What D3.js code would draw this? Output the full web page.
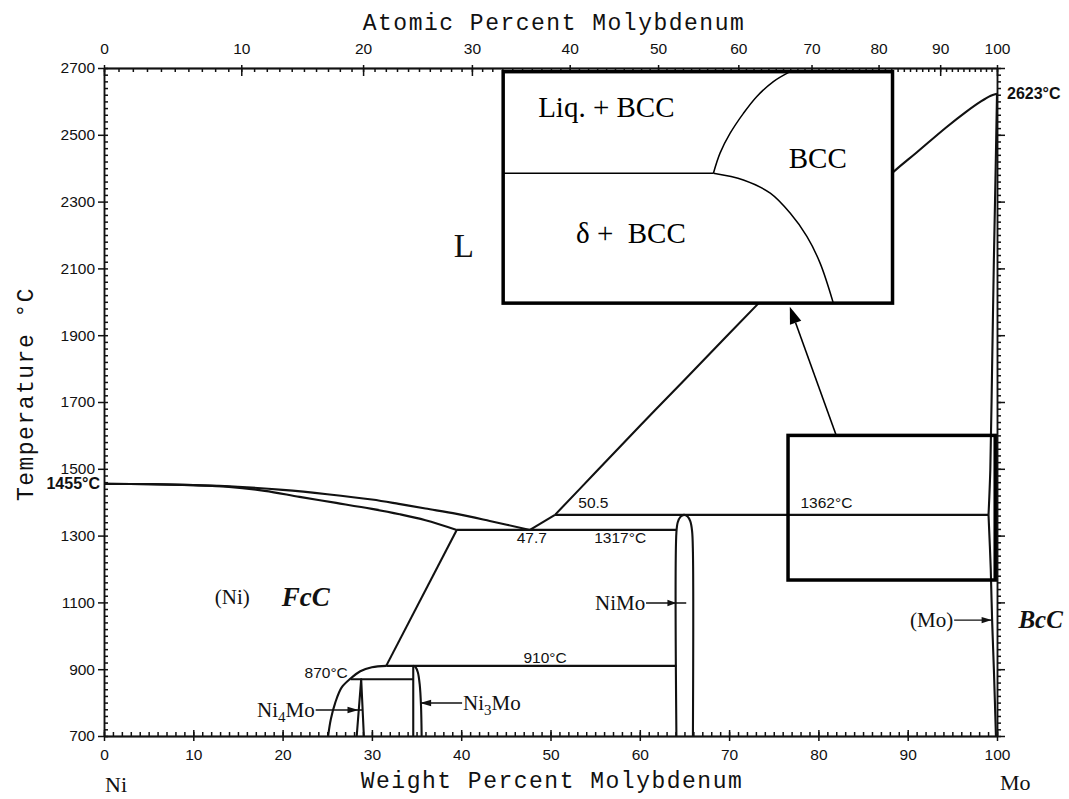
<!DOCTYPE html>
<html>
<head>
<meta charset="utf-8">
<script src="https://cdn.jsdelivr.net/npm/d3@7"></script>
<style>
  body { margin: 0; background: #fff; }
  svg { display: block; }
  .tick text { font-family: "Liberation Sans", Arial, sans-serif; font-size: 15.5px; fill: #111; }
  .axis path { stroke: #111; stroke-width: 1.5; }
  .axis line { stroke: #111; stroke-width: 1.5; }
  .title { font-family: "Liberation Mono", "Courier New", monospace; font-size: 23px; letter-spacing: 1.5px; fill: #111; }
  .num { font-family: "Liberation Sans", Arial, sans-serif; font-size: 15.5px; fill: #111; }
  .numb { font-family: "Liberation Sans", Arial, sans-serif; font-size: 16px; font-weight: bold; fill: #111; }
  .phase { font-family: "Liberation Serif", "Times New Roman", serif; font-size: 21px; fill: #111; }
  .elem { font-family: "Liberation Serif", "Times New Roman", serif; font-size: 22px; fill: #111; }
  .big { font-family: "Liberation Serif", "Times New Roman", serif; font-size: 33px; fill: #111; }
  .hand { font-family: "Liberation Serif", "Times New Roman", serif; font-style: italic; font-weight: bold; fill: #111; }
  .inset { font-family: "Liberation Serif", "Times New Roman", serif; font-size: 29px; fill: #000; }
</style>
</head>
<body>
<svg id="chart" width="1069" height="799"></svg>
<script>
// ---- Axis ticks ----
const wtTicks = d3.range(0, 101, 10);           // weight percent Mo (bottom)
const atTicks = d3.range(0, 101, 10);           // atomic percent Mo (top)
const tempTicks = d3.range(700, 2701, 200);     // temperature, degC

// ---- Phase boundaries: [wt% Mo, T degC] ----
const liquidusNi = [[0,1455],[5,1454],[10,1451],[15,1446],[20,1437],[25,1424],[30,1408],[33,1395],[36,1381],[39.5,1365],[43.2,1344],[47.7,1317]];
const solidusNi = [[0,1455],[5,1454],[10,1451],[14,1446],[18,1434],[21.9,1416],[26,1398],[30,1380],[33.1,1364],[36,1346],[39.5,1317]];
const solvusNiHigh = [[39.5,1317],[31.6,910]];
const solvusNiLow = [[31.6,910],[30,906],[28.7,894],[27.6,872],[26.6,845],[25.9,800],[25.4,750],[25.1,700]];
const liquidusMoLow = [[47.7,1317],[50.5,1362]];
const liquidusMo = [[50.5,1362],[55,1488],[60,1628],[65,1766],[73.1,1990],[80,2180],[88.4,2389],[91,2447],[94.3,2522],[96.5,2568],[98.2,2600],[99.3,2617],[100,2623]];
const solidusMo = [[100,2623],[99.85,2400],[99.65,2125],[99.45,1800],[99.25,1496],[99.05,1362]];
const solvusMo = [[99.05,1362],[99.3,1200],[99.45,1050],[99.65,900],[99.88,700]];
const eutectic1317 = [[39.5,1317],[64.1,1317]];
const peritectic1362 = [[50.5,1362],[99.05,1362]];
const peritectoid910 = [[31.6,910],[64.1,910]];
const reaction870 = [[27.6,870],[34.63,870]];
const niMoLens = [[64.1,700],[64.1,1310],[64.25,1340],[64.55,1356],[64.95,1362],[65.35,1357],[65.65,1343],[65.85,1315],[65.95,1250],[65.95,700]];
const ni4MoField = [[28.3,700],[28.8,870],[29.1,700]];
const ni3MoLeft = [[34.63,700],[34.63,910]];
const ni3MoRight = [[34.63,910],[34.9,906],[35.15,890],[35.35,855],[35.5,790],[35.57,700]];

// ---- Enlarged detail (local 0-100 units inside the detail box) ----
const detailPeritectic = [[0,56.1],[54,56.1]];
const detailLiquidus = [[54,56.1],[55.7,64.8],[58.3,73.4],[61.7,82],[65.1,89.2],[69.4,95.7],[73.7,100]];
const detailSolvus = [[54,56.1],[61.7,53.2],[68.6,47.5],[73.7,38.9],[78,28.8],[81.4,17.3],[84.8,0]];

// Molar masses for the atomic-percent scale
const M_MO = 95.95, M_NI = 58.69;
const atToWt = a => 100 * a * M_MO / (a * M_MO + (100 - a) * M_NI);

const svg = d3.select("#chart");
const x = d3.scaleLinear().domain([0, 100]).range([104, 997]);
const y = d3.scaleLinear().domain([700, 2700]).range([736, 68]);
const atGrid = d3.range(0, 101, 1);
const xAt = d3.scaleLinear().domain(atGrid).range(atGrid.map(a => x(atToWt(a))));
const fmt = d3.format("d");

const X0 = x(0), X1 = x(100), Y0 = y(700), Y1 = y(2700);

// ---- Axes ----
function axisG(tx, ty) {
  return svg.append("g").attr("class", "axis").attr("transform", `translate(${tx},${ty})`);
}
const none = () => "";
// bottom
axisG(0, Y0).call(d3.axisBottom(x).tickValues(wtTicks).tickFormat(fmt).tickSize(5).tickSizeOuter(0).tickPadding(8));
axisG(0, Y0).call(d3.axisTop(x).tickValues(d3.range(0, 101, 1)).tickSize(4).tickSizeOuter(0).tickFormat(none));
axisG(0, Y0).call(d3.axisTop(x).tickValues(wtTicks).tickSize(6).tickSizeOuter(0).tickFormat(none));
// top (atomic percent)
axisG(0, Y1).call(d3.axisTop(xAt).tickValues(atTicks).tickFormat(fmt).tickSize(3).tickSizeOuter(0).tickPadding(11));
axisG(0, Y1).call(d3.axisBottom(xAt).tickValues(d3.range(0, 101, 1)).tickSize(4).tickSizeOuter(0).tickFormat(none));
axisG(0, Y1).call(d3.axisBottom(xAt).tickValues(atTicks).tickSize(8).tickSizeOuter(0).tickFormat(none));
// left
axisG(X0, 0).call(d3.axisLeft(y).tickValues(tempTicks).tickFormat(fmt).tickSize(6).tickSizeOuter(0).tickPadding(3));
axisG(X0, 0).call(d3.axisRight(y).tickValues(d3.range(700, 2701, 20)).tickSize(4).tickSizeOuter(0).tickFormat(none));
// right
axisG(X1, 0).call(d3.axisRight(y).tickValues(d3.range(700, 2701, 20)).tickSize(4).tickSizeOuter(0).tickFormat(none));
axisG(X1, 0).call(d3.axisRight(y).tickValues(tempTicks).tickSize(8).tickSizeOuter(0).tickFormat(none));

// ---- Axis titles ----
svg.append("text").attr("class", "title").attr("x", 554).attr("y", 30).attr("text-anchor", "middle").text("Atomic Percent Molybdenum");
svg.append("text").attr("class", "title").attr("x", 552).attr("y", 788).attr("text-anchor", "middle").text("Weight Percent Molybdenum");
svg.append("text").attr("class", "title").attr("transform", "translate(33,394) rotate(-90)").attr("text-anchor", "middle").text("Temperature °C");
svg.append("text").attr("class", "elem").attr("x", X0 + 1).attr("y", 792).text("Ni");
svg.append("text").attr("class", "elem").attr("x", X1 + 3).attr("y", 790).text("Mo");

// ---- Phase boundaries ----
const smooth = d3.curveCatmullRom.alpha(0.5);
const lineFor = (curve, sx = x, sy = y) => d3.line().x(d => sx(d[0])).y(d => sy(d[1])).curve(curve);
const boundaries = [
  [liquidusNi, smooth], [solidusNi, smooth], [solvusNiHigh, d3.curveLinear], [solvusNiLow, smooth],
  [liquidusMoLow, d3.curveLinear], [liquidusMo, smooth], [solidusMo, smooth], [solvusMo, smooth],
  [eutectic1317, d3.curveLinear], [peritectic1362, d3.curveLinear], [peritectoid910, d3.curveLinear],
  [reaction870, d3.curveLinear], [niMoLens, smooth], [ni4MoField, d3.curveLinear],
  [ni3MoLeft, d3.curveLinear], [ni3MoRight, smooth]
];
svg.append("g").selectAll("path").data(boundaries).join("path")
  .attr("d", d => lineFor(d[1])(d[0]))
  .attr("fill", "none").attr("stroke", "#111").attr("stroke-width", 2.1)
  .attr("stroke-linejoin", "round");

// ---- Arrows ----
function arrow(g, x1, y1, x2, y2, tipX, len, half, width) {
  // line from (x1,y1) to (x2,y2); filled head with tip at tipX on the same line
  g.append("line").attr("x1", x1).attr("y1", y1).attr("x2", x2).attr("y2", y2)
    .attr("stroke", "#111").attr("stroke-width", width);
  const dir = Math.sign(x2 - x1) || 1;
  const tx = tipX, ty = y1 + (y2 - y1) * ((tipX - x1) / ((x2 - x1) || 1));
  g.append("path").attr("d", `M${tx},${ty}L${tx - dir * len},${ty - half}L${tx - dir * len},${ty + half}Z`).attr("fill", "#111");
}
const ag = svg.append("g");

// ---- Labels on the diagram ----
const labelsSans = [
  ["870°C", 27.3, 890, "end"],
  ["910°C", 49.4, 935, "middle"],
  ["47.7", 47.9, 1293, "middle"],
  ["1317°C", 57.8, 1293, "middle"],
  ["50.5", 54.8, 1398, "middle"],
  ["1362°C", 80.9, 1398, "middle"]
];
svg.append("g").selectAll("text").data(labelsSans).join("text")
  .attr("class", "num").attr("x", d => x(d[1])).attr("y", d => y(d[2]))
  .attr("dy", "0.35em").attr("text-anchor", d => d[3]).text(d => d[0]);

svg.append("text").attr("class", "numb").attr("x", X0 - 4).attr("y", y(1455)).attr("dy", "0.35em").attr("text-anchor", "end").text("1455°C");
svg.append("text").attr("class", "numb").attr("x", X1 + 10).attr("y", y(2623)).attr("dy", "0.35em").text("2623°C");

svg.append("text").attr("class", "big").attr("x", x(40.3)).attr("y", y(2170)).attr("dy", "0.35em").attr("text-anchor", "middle").text("L");
svg.append("text").attr("class", "phase").attr("x", x(12.4)).attr("y", y(1116)).attr("dy", "0.33em").text("(Ni)");
svg.append("text").attr("class", "hand").style("font-size", "27px").attr("x", x(19.9)).attr("y", y(1116)).attr("dy", "0.33em").text("FcC");
svg.append("text").attr("class", "phase").attr("x", x(95.1)).attr("y", y(1047)).attr("dy", "0.33em").attr("text-anchor", "end").text("(Mo)");
svg.append("text").attr("class", "hand").style("font-size", "25px").attr("x", x(102.4)).attr("y", y(1047)).attr("dy", "0.33em").text("BcC");

svg.append("text").attr("class", "phase").attr("x", x(60.6)).attr("y", y(1098)).attr("dy", "0.33em").attr("text-anchor", "end").text("NiMo");
const ni4 = svg.append("text").attr("class", "phase").attr("x", x(23.6)).attr("y", y(778)).attr("dy", "0.33em").attr("text-anchor", "end");
ni4.append("tspan").text("Ni");
ni4.append("tspan").attr("dy", "5").style("font-size", "15px").text("4");
ni4.append("tspan").attr("dy", "-5").text("Mo");
const ni3 = svg.append("text").attr("class", "phase").attr("x", x(40.2)).attr("y", y(799)).attr("dy", "0.33em");
ni3.append("tspan").text("Ni");
ni3.append("tspan").attr("dy", "5").style("font-size", "15px").text("3");
ni3.append("tspan").attr("dy", "-5").text("Mo");

arrow(ag, x(60.7), y(1098), x(65.2), y(1098), x(64.1), 9, 3.2, 1.4);
arrow(ag, x(23.7), y(778), x(29.0), y(778), x(28.5), 11, 3.2, 1.4);
arrow(ag, x(40.1), y(799), x(35.4), y(799), x(35.4), 11, 3.2, 1.4);
arrow(ag, x(95.2), y(1047), x(99.4), y(1047), x(99.4), 10, 3.2, 1.4);

// ---- Highlighted region and enlarged detail ----
const zoomBox = { x0: 76.6, x1: 99.8, t0: 1167, t1: 1600 };
const detailBox = { x0: 44.7, x1: 88.3, t0: 1996, t1: 2689 };
const pointer = { from: [82.0, 1600], to: [76.8, 1985] };

svg.append("rect")
  .attr("x", x(zoomBox.x0)).attr("y", y(zoomBox.t1))
  .attr("width", x(zoomBox.x1) - x(zoomBox.x0)).attr("height", y(zoomBox.t0) - y(zoomBox.t1))
  .attr("fill", "none").attr("stroke", "#000").attr("stroke-width", 3.5);

// pointer arrow from the highlighted region to the detail box
(function () {
  const x1 = x(pointer.from[0]), y1 = y(pointer.from[1]);
  const x2 = x(pointer.to[0]), y2 = y(pointer.to[1]);
  const ang = Math.atan2(y2 - y1, x2 - x1), len = 17, half = 6;
  const bx = x2 - len * Math.cos(ang), by = y2 - len * Math.sin(ang);
  svg.append("line").attr("x1", x1).attr("y1", y1).attr("x2", bx).attr("y2", by)
    .attr("stroke", "#000").attr("stroke-width", 1.6);
  const px = -Math.sin(ang) * half, py = Math.cos(ang) * half;
  svg.append("path").attr("d", `M${x2},${y2}L${bx + px},${by + py}L${bx - px},${by - py}Z`).attr("fill", "#000");
})();

const ix = d3.scaleLinear().domain([0, 100]).range([x(detailBox.x0), x(detailBox.x1)]);
const iy = d3.scaleLinear().domain([0, 100]).range([y(detailBox.t0), y(detailBox.t1)]);
const detail = svg.append("g");
detail.append("rect")
  .attr("x", ix(0)).attr("y", iy(100)).attr("width", ix(100) - ix(0)).attr("height", iy(0) - iy(100))
  .attr("fill", "#fff").attr("stroke", "#000").attr("stroke-width", 3.5);
detail.selectAll("path").data([[detailPeritectic, d3.curveLinear], [detailLiquidus, smooth], [detailSolvus, smooth]]).join("path")
  .attr("d", d => lineFor(d[1], ix, iy)(d[0]))
  .attr("fill", "none").attr("stroke", "#000").attr("stroke-width", 1.5);
const detailLabels = [["Liq. + BCC", 26.5, 84.9], ["BCC", 80.8, 62.7], ["δ +  BCC", 32.8, 30.4]];
detail.selectAll("text").data(detailLabels).join("text")
  .attr("class", "inset").attr("x", d => ix(d[1])).attr("y", d => iy(d[2]))
  .attr("dy", "0.35em").attr("text-anchor", "middle").style("white-space", "pre").text(d => d[0]);
</script>
</body>
</html>
